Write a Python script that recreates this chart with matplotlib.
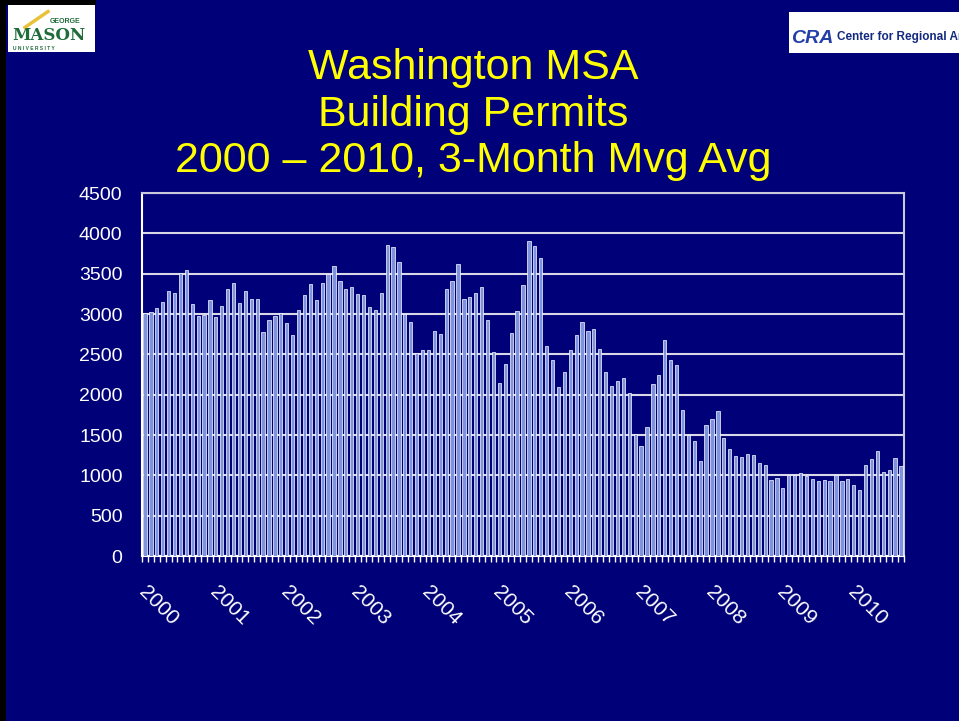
import matplotlib.pyplot as plt
from matplotlib.patches import Rectangle
import numpy as np

plt.rcParams['font.family'] = ['Liberation Sans', 'DejaVu Sans']

# monthly 3-month moving average of permits, Jan 2000 - Sep 2010
permits = [
    3010, 3025, 3075, 3150, 3280, 3260, 3505, 3550, 3130, 2980, 2990, 3170,
    2965, 3100, 3305, 3390, 3135, 3290, 3185, 3185, 2780, 2925, 2975, 3015,
    2885, 2745, 3050, 3235, 3375, 3170, 3385, 3490, 3595, 3415, 3315, 3340,
    3250, 3230, 3085, 3050, 3265, 3860, 3825, 3645, 2995, 2895, 2515, 2555,
    2550, 2790, 2750, 3305, 3415, 3620, 3180, 3205, 3255, 3335, 2925, 2525,
    2150, 2385, 2765, 3040, 3360, 3905, 3840, 3700, 2605, 2425, 2090, 2280,
    2560, 2740, 2895, 2790, 2810, 2570, 2280, 2105, 2170, 2210, 2020, 1515,
    1370, 1600, 2130, 2250, 2675, 2435, 2365, 1815, 1500, 1420, 1180, 1625,
    1695, 1800, 1465, 1330, 1245, 1230, 1260, 1250, 1150, 1130, 945, 970,
    845, 1010, 1005, 1035, 990, 950, 935, 945, 935, 1010, 935, 955,
    875, 820, 1130, 1205, 1305, 1045, 1070, 1220, 1120,
]
years = ['2000', '2001', '2002', '2003', '2004', '2005',
         '2006', '2007', '2008', '2009', '2010']
yticks = [0, 500, 1000, 1500, 2000, 2500, 3000, 3500, 4000, 4500]

navy = '#000078'
fig = plt.figure(figsize=(9.59, 7.21), dpi=100, facecolor=navy)

# thin dark strips on the slide edge
fig.patches.append(Rectangle((0, 0), 0.006, 1, transform=fig.transFigure,
                             facecolor='black', edgecolor='none', zorder=0))
fig.patches.append(Rectangle((0, 0.993), 0.1, 0.007, transform=fig.transFigure,
                             facecolor='black', edgecolor='none', zorder=0))

ax = fig.add_axes([0.1481, 0.2288, 0.7945, 0.5035])
ax.set_facecolor(navy)

x = np.arange(len(permits))
ax.bar(x, permits, width=0.55, color='#7d93dd', edgecolor='white',
       linewidth=0.5, zorder=3)

ax.set_xlim(-0.5, len(permits) - 0.5)
ax.set_ylim(0, 4500)
ax.set_yticks(yticks)
ax.set_yticklabels([str(v) for v in yticks], color='white', fontsize=14)
ax.tick_params(axis='y', length=0, pad=14)
ax.yaxis.grid(True, color='#d8d8e8', linewidth=1.5, zorder=1)

# little tick marks between months, year labels under each January
ax.set_xticks(np.arange(-0.5, len(permits)))
ax.set_xticklabels([])
ax.tick_params(axis='x', length=4, color='white', width=1)
for i, yr in zip(x[::12], years):
    ax.annotate(yr, xy=(i, 0), xycoords=('data', 'axes fraction'),
                xytext=(-10, -26), textcoords='offset pixels',
                rotation=-45, ha='left', va='top', color='white', fontsize=15,
                annotation_clip=False)

for side in ['top', 'right']:
    ax.spines[side].set_color('#c8c8dc')
    ax.spines[side].set_linewidth(1.5)
ax.spines['left'].set_color('white')
ax.spines['left'].set_linewidth(1.5)
ax.spines['bottom'].set_color('white')
ax.spines['bottom'].set_linewidth(1.5)

fig.text(0.493, 0.933, 'Washington MSA\nBuilding Permits\n2000 \u2013 2010, 3-Month Mvg Avg',
         ha='center', va='top', color='#ffff00', fontsize=31, linespacing=1.2)

# George Mason University logo box
fig.patches.append(Rectangle((0.008, 0.928), 0.091, 0.065, transform=fig.transFigure,
                             facecolor='white', edgecolor='none'))
fig.text(0.013, 0.944, 'MASON', color='#1f6b3a', fontsize=12, fontweight='bold',
         family='DejaVu Serif', ha='left', va='baseline')
fig.text(0.052, 0.968, 'GEORGE', color='#1f6b3a', fontsize=5, fontweight='bold',
         ha='left', va='baseline')
fig.text(0.014, 0.931, 'U N I V E R S I T Y', color='#1f6b3a', fontsize=3.5,
         fontweight='bold', ha='left', va='baseline')
fig.lines.append(plt.Line2D([0.026, 0.050], [0.962, 0.984], transform=fig.transFigure,
                            color='#e8c23a', linewidth=2.5))

# Center for Regional Analysis logo box
fig.patches.append(Rectangle((0.823, 0.926), 0.18, 0.058, transform=fig.transFigure,
                             facecolor='white', edgecolor='none'))
fig.text(0.825, 0.941, 'CRA', color='#2440a8', fontsize=14, fontweight='bold',
         fontstyle='italic', ha='left', va='baseline')
fig.text(0.873, 0.944, 'Center for Regional Analysis', color='#142a80',
         fontsize=8.5, fontweight='bold', ha='left', va='baseline')

fig.savefig('out.png', dpi=100, facecolor=navy)
